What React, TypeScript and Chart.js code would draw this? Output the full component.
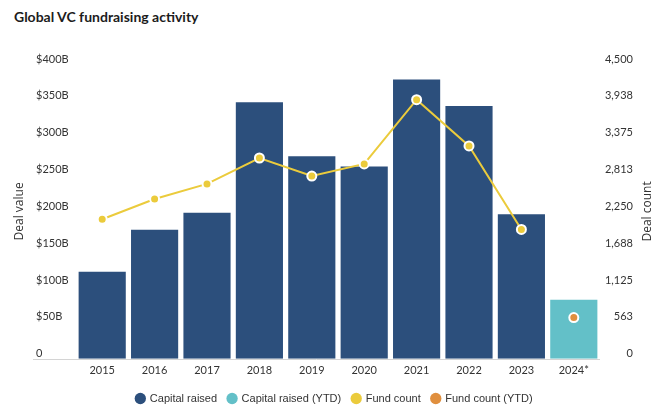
import React, { useEffect, useRef } from 'react';
import { Chart, registerables } from 'chart.js';

Chart.register(...registerables);

const categories = ['2015', '2016', '2017', '2018', '2019', '2020', '2021', '2022', '2023', '2024*'];
const capitalRaised = [118, 175, 198, 348, 275, 261, 379, 343, 196, null];
const capitalRaisedYTD = [null, null, null, null, null, null, null, null, null, 80];
const fundCount = [2130, 2440, 2670, 3065, 2790, 2975, 3955, 3250, 1975, null];
const fundCountYTD = [null, null, null, null, null, null, null, null, null, 630];

const valueMax = 400;
const valueStep = 50;
const countMax = 4500;
const countStep = 562.5;

const NAVY = '#2c4f7c';
const TEAL = '#63c0c8';
const YELLOW = '#ebcb3c';
const ORANGE = '#e08f3e';
const TEXT = '#333333';

const decorPlugin = {
  id: 'decor',
  beforeLayout(chart: any) {
    const lg = chart.legend;
    if (lg && !lg._patched) {
      const orig = lg.fit;
      lg.fit = function () {
        orig.call(this);
        this.height -= 5;
      };
      lg._patched = true;
    }
  },
  beforeDatasetsDraw(chart: any) {
    const { ctx, chartArea } = chart;
    const y0 = Math.round(chart.scales.y.getPixelForValue(0)) + 0.5;
    ctx.save();
    ctx.strokeStyle = '#d4d4d4';
    ctx.lineWidth = 1;
    ctx.beginPath();
    ctx.moveTo(33, y0);
    ctx.lineTo(chartArea.right, y0);
    ctx.stroke();
    const cy = (chartArea.top + chartArea.bottom) / 2;
    ctx.font = '12px "Open Sans"';
    ctx.fillStyle = TEXT;
    ctx.textAlign = 'center';
    ctx.textBaseline = 'middle';
    ctx.save();
    ctx.translate(20, cy);
    ctx.rotate(-Math.PI / 2);
    ctx.fillText('Deal value', 0, 0);
    ctx.restore();
    ctx.save();
    ctx.translate(648, cy);
    ctx.rotate(-Math.PI / 2);
    ctx.fillText('Deal count', 0, 0);
    ctx.restore();
    ctx.restore();
  },
};

export default function App() {
  const canvasRef = useRef<HTMLCanvasElement | null>(null);

  useEffect(() => {
    if (!canvasRef.current) return;
    const tickFont = { family: 'Lato', size: 11 };
    const chart = new Chart(canvasRef.current, {
      type: 'bar',
      data: {
        labels: categories,
        datasets: [
          {
            type: 'line',
            label: 'Fund count',
            data: fundCount,
            yAxisID: 'y1',
            borderColor: YELLOW,
            backgroundColor: YELLOW,
            borderWidth: 2,
            pointRadius: 4.5,
            pointBorderColor: '#ffffff',
            pointBorderWidth: 2,
            pointBackgroundColor: YELLOW,
            spanGaps: false,
            order: 0,
          },
          {
            type: 'line',
            label: 'Fund count (YTD)',
            data: fundCountYTD,
            yAxisID: 'y1',
            borderColor: ORANGE,
            backgroundColor: ORANGE,
            borderWidth: 2,
            pointRadius: 4.5,
            pointBorderColor: '#ffffff',
            pointBorderWidth: 2,
            pointBackgroundColor: ORANGE,
            order: 0,
          },
          {
            type: 'bar',
            label: 'Capital raised',
            data: capitalRaised,
            yAxisID: 'y',
            backgroundColor: NAVY,
            grouped: false,
            barPercentage: 0.9,
            categoryPercentage: 1,
            order: 1,
          },
          {
            type: 'bar',
            label: 'Capital raised (YTD)',
            data: capitalRaisedYTD,
            yAxisID: 'y',
            backgroundColor: TEAL,
            grouped: false,
            barPercentage: 0.9,
            categoryPercentage: 1,
            order: 1,
          },
        ] as any,
      },
      options: {
        animation: false,
        responsive: true,
        maintainAspectRatio: false,
        layout: { padding: { left: 36, right: 25, top: 64, bottom: 0 } },
        plugins: {
          tooltip: { enabled: false },
          legend: {
            position: 'bottom',
            labels: {
              usePointStyle: true,
              boxWidth: 8,
              boxHeight: 8,
              padding: 11,
              color: TEXT,
              font: { family: '"Liberation Sans", Arial, sans-serif', size: 11 },
              generateLabels: () => [
                { text: 'Capital raised', fillStyle: NAVY, strokeStyle: NAVY, lineWidth: 0, pointStyle: 'circle', datasetIndex: 2, fontColor: TEXT },
                { text: 'Capital raised (YTD)', fillStyle: TEAL, strokeStyle: TEAL, lineWidth: 0, pointStyle: 'circle', datasetIndex: 3, fontColor: TEXT },
                { text: 'Fund count', fillStyle: YELLOW, strokeStyle: YELLOW, lineWidth: 0, pointStyle: 'circle', datasetIndex: 0, fontColor: TEXT },
                { text: 'Fund count (YTD)', fillStyle: ORANGE, strokeStyle: ORANGE, lineWidth: 0, pointStyle: 'circle', datasetIndex: 1, fontColor: TEXT },
              ] as any,
            },
          },
        },
        scales: {
          x: {
            grid: { display: false, drawTicks: false },
            border: { display: false },
            ticks: { color: TEXT, font: tickFont, padding: 5, maxRotation: 0 },
          },
          y: {
            position: 'left',
            min: 0,
            max: valueMax,
            grid: { display: false },
            border: { display: false },
            ticks: {
              stepSize: valueStep,
              crossAlign: 'far',
              labelOffset: -5,
              color: TEXT,
              font: tickFont,
              callback: (v: any) => (Number(v) === 0 ? '0' : `$${v}B`),
            },
            afterFit: (s: any) => { s.width = 40; },
          },
          y1: {
            position: 'right',
            min: 0,
            max: countMax,
            grid: { display: false },
            border: { display: false },
            ticks: {
              stepSize: countStep,
              crossAlign: 'far',
              labelOffset: -5,
              color: TEXT,
              font: tickFont,
              callback: (v: any) => Math.round(Number(v)).toLocaleString('en-US'),
            },
            afterFit: (s: any) => { s.width = 33; },
          },
        },
      } as any,
      plugins: [decorPlugin],
    });
    return () => chart.destroy();
  }, []);

  return (
    <div style={{ position: 'absolute', left: 0, top: 0, width: 658, height: 409, background: '#fff' }}>
      <div
        style={{
          position: 'absolute',
          left: 14,
          top: 8,
          fontFamily: 'Lato, sans-serif',
          fontWeight: 700,
          fontSize: 14,
          color: '#1c1c1c',
          whiteSpace: 'nowrap',
        }}
      >
        Global VC fundraising activity
      </div>
      <canvas ref={canvasRef} style={{ position: 'absolute', left: 0, top: 0, width: 658, height: 409 }} />
    </div>
  );
}
